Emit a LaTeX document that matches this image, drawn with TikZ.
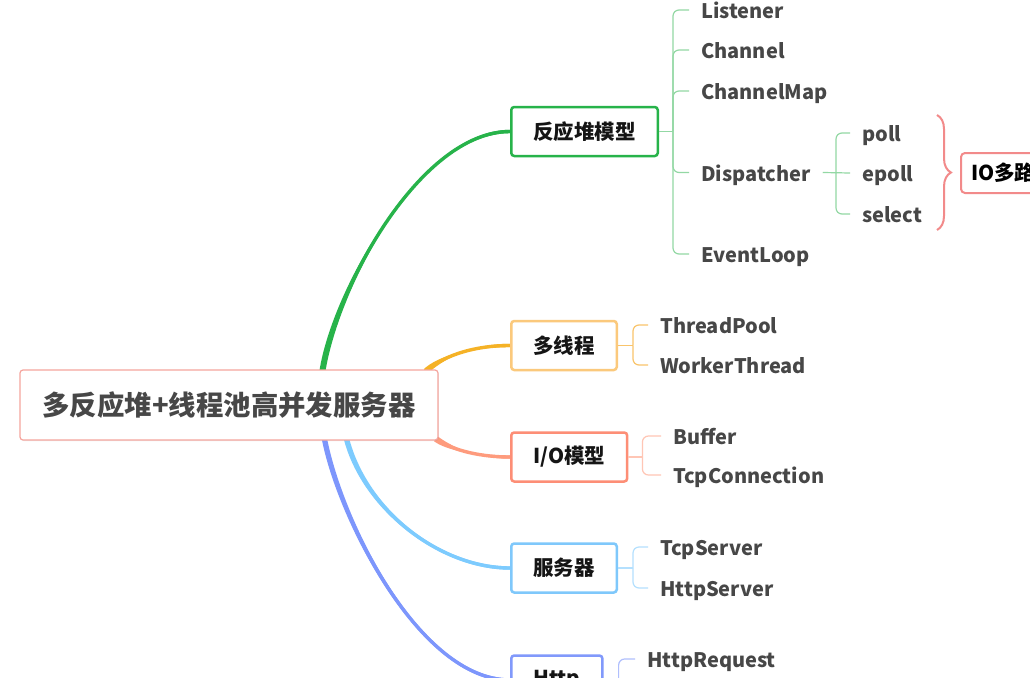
\documentclass[tikz,border=0pt]{standalone}
\usepackage{fontspec}
\setmainfont{Noto Sans CJK SC}
\usetikzlibrary{calc,decorations.pathreplacing,shadows}
\pgfdeclarelayer{bg}
\pgfsetlayers{bg,main}
\definecolor{gLine}{HTML}{27B34A}
\definecolor{gKid}{HTML}{93D8A4}
\definecolor{oLine}{HTML}{F5B226}
\definecolor{oBox}{HTML}{FBC97C}
\definecolor{oKid}{HTML}{F9C46B}
\definecolor{sLine}{HTML}{FE9B7D}
\definecolor{sBox}{HTML}{FD8E76}
\definecolor{sKid}{HTML}{FFC6B5}
\definecolor{bLine}{HTML}{7DCBFE}
\definecolor{bBox}{HTML}{7FC8FB}
\definecolor{bKid}{HTML}{B4E0FE}
\definecolor{pLine}{HTML}{7D96FC}
\definecolor{pBox}{HTML}{8199FB}
\definecolor{pKid}{HTML}{B0BFFD}
\definecolor{rootBorder}{HTML}{F5A59E}
\definecolor{braceCol}{HTML}{F28A8A}
\definecolor{kidText}{HTML}{474747}
\definecolor{boxText}{HTML}{151515}
\tikzset{
  topicbox/.style={draw, line width=2.5pt, rounded corners=3pt, fill=white, anchor=west,
    minimum height=49pt, inner xsep=22pt, inner ysep=0pt, text=boxText,
    font=\fontsize{20.5}{24}\selectfont\bfseries},
  kid/.style={anchor=west, inner xsep=12pt, inner ysep=0pt, text=kidText,
    text height=18pt, text depth=1pt,
    font=\fontsize{20}{23}\selectfont\bfseries},
  kidline/.style={line width=1.2pt, rounded corners=6pt},
}
% main connector with a slight taper: #1 colour, #2 start, #3 c1, #4 c2, #5 end, #6 start half-offset, #7 end half-width
\newcommand\taperline[7]{%
  \draw[#1, line width=3.4pt] (#2) .. controls (#3) and (#4) .. (#5);
  \fill[#1] ($(#2)+(#6)$) .. controls ($(#3)+(#6)$) and ($(#4)+(0,-#7)$) .. ($(#5)+(0,-#7)$)
    -- ($(#5)+(0,#7)$) .. controls ($(#4)+(0,#7)$) and ($(#3)-(#6)$) .. ($(#2)-(#6)$) -- cycle;}
\begin{document}
\begin{tikzpicture}[x=1pt,y=-1pt]
\useasboundingbox (0,0) rectangle (1030,677);
\clip (0,0) rectangle (1030,677);

% root
\node[draw=rootBorder, line width=1.2pt, rounded corners=3pt, fill=white,
  minimum width=418pt, minimum height=70pt, text=kidText,
  font=\fontsize{27.4}{32}\selectfont\bfseries,
  drop shadow={opacity=0.15, shadow xshift=0.8pt, shadow yshift=-1pt}]
  (root) at (229,405) {多反应堆+线程池高并发服务器};

% topic boxes
\node[topicbox, draw=gLine] (r1) at (510,131.5) {反应堆模型};
\node[topicbox, draw=oBox] (m) at (510,345.5) {多线程};
\node[topicbox, draw=sBox] (io) at (510,457) {I/O模型};
\node[topicbox, draw=bBox] (s) at (510,568) {服务器};
\node[topicbox, draw=pBox] (h) at (510,680) {Http};

\coordinate (gs) at ($(root.north west)+(303,2)$);
\coordinate (os) at ($(root.north east)+(-13,2)$);
\coordinate (ss) at ($(root.south east)+(-3,-2)$);
\coordinate (bs) at ($(root.south west)+(327,-2)$);
\coordinate (ps) at ($(root.south west)+(305,-2)$);

\begin{pgfonlayer}{bg}
\fill[white] (0,0) rectangle (1030,677);
\taperline{gLine}{gs}{335,290}{420,131.5}{r1.west}{3.0,0.4}{1.7}
\taperline{oLine}{os}{440,358}{470,345.5}{m.west}{1.8,2.3}{1.7}
\taperline{sLine}{ss}{448,448}{475,457}{io.west}{-1.6,2.6}{1.7}
\taperline{bLine}{bs}{365,510}{440,568}{s.west}{2.6,-0.6}{1.7}
\taperline{pLine}{ps}{340,520}{420,680}{h.west}{2.6,-0.5}{1.7}
\end{pgfonlayer}

% reactor children
\node[kid] (c1) at (689,10) {Listener};
\node[kid] (c2) at (689,50) {Channel};
\node[kid] (c3) at (689,91) {ChannelMap};
\node[kid] (c4) at (689,172.5) {Dispatcher};
\node[kid] (c5) at (689,254) {EventLoop};
\coordinate (g1) at ($(r1.east)+(14,0)$);
\draw[kidline, gKid] (r1.east) -- (g1);
\foreach \k in {c1,c2,c3,c4,c5} \draw[kidline, gKid] (g1) |- (\k.west);

% dispatcher children
\node[kid] (d1) at (850,133) {poll};
\node[kid] (d2) at (850,173) {epoll};
\node[kid] (d3) at (850,214) {select};
\coordinate (dv) at (836,173);
\draw[kidline, gKid] (c4.east) -- (d2.west);
\draw[kidline, gKid] (dv) |- (d1.west);
\draw[kidline, gKid] (dv) |- (d3.west);

% brace + IO box
\coordinate (bt) at (937,115);
\coordinate (bb) at (937,230);
\draw[braceCol, line width=2pt, decorate, decoration={brace, amplitude=14pt}] (bt) -- (bb);
\node[draw=braceCol, line width=2pt, rounded corners=4pt, fill=white, anchor=west,
  minimum height=40pt, minimum width=110pt, align=left, text width=90pt, inner xsep=10pt, inner ysep=0pt,
  text=black, font=\fontsize{20.5}{24}\selectfont\bfseries] (iom) at (960,173) {IO多路};

% multithread children
\node[kid] (m1) at (648,325) {ThreadPool};
\node[kid] (m2) at (648,365) {WorkerThread};
\coordinate (mv) at ($(m.east)+(15,0)$);
\draw[kidline, oKid] (m.east) -- (mv);
\draw[kidline, oKid] (mv) |- (m1.west);
\draw[kidline, oKid] (mv) |- (m2.west);

% io children
\node[kid] (i1) at (661,436) {Buffer};
\node[kid] (i2) at (661,475) {TcpConnection};
\coordinate (iv) at ($(io.east)+(14,0)$);
\draw[kidline, sKid] (io.east) -- (iv);
\draw[kidline, sKid] (iv) |- (i1.west);
\draw[kidline, sKid] (iv) |- (i2.west);

% server children
\node[kid] (s1) at (648,547) {TcpServer};
\node[kid] (s2) at (648,588) {HttpServer};
\coordinate (sv) at ($(s.east)+(15,0)$);
\draw[kidline, bKid] (s.east) -- (sv);
\draw[kidline, bKid] (sv) |- (s1.west);
\draw[kidline, bKid] (sv) |- (s2.west);

% http children
\node[kid] (h1) at (635,659) {HttpRequest};
\coordinate (hv) at ($(h.east)+(15,0)$);
\draw[kidline, pKid] (h.east) -- (hv);
\draw[kidline, pKid] (hv) |- (h1.west);
\end{tikzpicture}
\end{document}
